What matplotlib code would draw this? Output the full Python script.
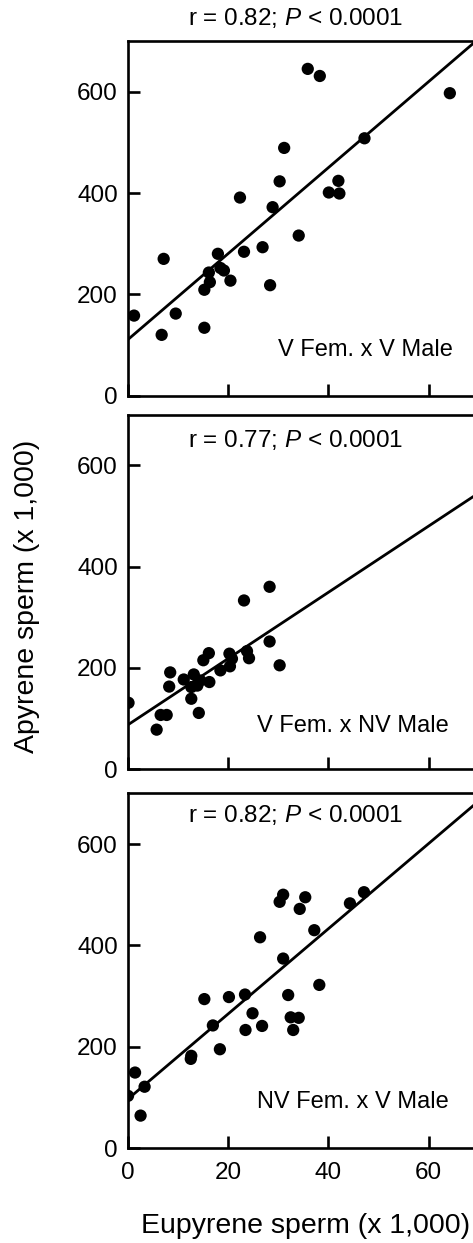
import matplotlib
matplotlib.use("Agg")
import matplotlib.pyplot as plt
import numpy as np

plt.rcParams["font.family"] = ["Liberation Sans", "DejaVu Sans"]
plt.rcParams["mathtext.fontset"] = "custom"
plt.rcParams["mathtext.rm"] = "Liberation Sans"
plt.rcParams["mathtext.it"] = "Liberation Sans:italic"

# panel 1: V Fem. x V Male
V_V_EUPYRENE = [1.3, 6.8, 7.2, 9.6, 15.3, 15.3, 16.4, 16.2, 18.5, 19.2, 18.0, 20.5, 23.2, 26.9,
                28.4, 22.4, 28.9, 30.3, 31.2, 34.1, 35.9, 38.3, 40.1, 42.2, 42.0, 47.2, 64.2]
V_V_APYRENE = [158, 120, 270, 162, 134, 209, 224, 243, 252, 247, 280, 227, 284, 293,
               218, 391, 372, 423, 489, 316, 645, 631, 401, 399, 424, 508, 597]
V_V_FIT = (8.5, 110)   # slope, intercept

# panel 2: V Fem. x NV Male
V_NV_EUPYRENE = [0.2, 5.8, 6.6, 7.8, 8.3, 8.5, 11.2, 12.7, 12.7, 13.2, 13.9, 14.2, 14.5, 15.1,
                 16.2, 16.3, 18.5, 20.3, 20.4, 20.8, 23.2, 23.8, 24.2, 28.3, 28.3, 30.3]
V_NV_APYRENE = [131, 78, 107, 107, 163, 191, 177, 139, 162, 187, 165, 111, 175, 215,
                229, 172, 195, 228, 203, 218, 333, 233, 219, 360, 252, 205]
V_NV_FIT = (6.55, 87)

# panel 3: NV Fem. x V Male
NV_V_EUPYRENE = [0.1, 2.6, 3.4, 1.5, 12.7, 12.6, 18.4, 17.0, 15.3, 20.2, 23.4, 23.5, 24.9, 26.8,
                 26.4, 31.0, 32.0, 32.5, 34.1, 33.0, 30.3, 31.0, 35.4, 34.3, 37.2, 38.2, 44.3, 47.1]
NV_V_APYRENE = [103, 64, 121, 149, 182, 176, 195, 242, 294, 298, 303, 233, 266, 241,
                416, 374, 302, 258, 257, 233, 486, 500, 495, 472, 430, 322, 483, 505]
NV_V_FIT = (8.42, 96)

PANEL_LABELS = ["V Fem. x V Male", "V Fem. x NV Male", "NV Fem. x V Male"]
R_VALUES = ["0.82", "0.77", "0.82"]
X_TICKS = [0, 20, 40, 60]
Y_TICKS = [0, 200, 400, 600]

panels = [
    (V_V_EUPYRENE, V_V_APYRENE, V_V_FIT),
    (V_NV_EUPYRENE, V_NV_APYRENE, V_NV_FIT),
    (NV_V_EUPYRENE, NV_V_APYRENE, NV_V_FIT),
]

fig = plt.figure(figsize=(4.73, 12.43), dpi=100)

bottoms = [0.6817, 0.3812, 0.0764]
title_y = [745, 650, 657]
label_pos = [(47.4, 90), (44.9, 86), (44.8, 90)]

for i, (xs, ys, fit) in enumerate(panels):
    ax = fig.add_axes([0.2696, bottoms[i], 0.743, 0.2853])
    ax.scatter(xs, ys, s=78, color="black", edgecolors="none", zorder=3)

    line_x = np.array([0, 70])
    ax.plot(line_x, fit[0] * line_x + fit[1], color="black", lw=2.0, zorder=2)

    ax.set_xlim(0, 70)
    ax.set_ylim(0, 700)
    ax.set_xticks(X_TICKS)
    ax.set_yticks(Y_TICKS)

    for side in ["left", "bottom", "top", "right"]:
        ax.spines[side].set_linewidth(1.9)

    ax.tick_params(direction="in", length=8.5, width=1.9, labelsize=17.5, pad=7)
    if i < 2:
        ax.tick_params(axis="x", labelbottom=False)
    else:
        ax.tick_params(axis="x", pad=10)

    ax.text(33.5, title_y[i], f"r = {R_VALUES[i]}; $\\it{{P}}$ < 0.0001",
            ha="center", va="center", fontsize=17.5, clip_on=False)
    ax.text(label_pos[i][0], label_pos[i][1], PANEL_LABELS[i],
            ha="center", va="center", fontsize=17)

fig.text(0.057, 0.52, "Apyrene sperm (x 1,000)", rotation=90,
         ha="center", va="center", fontsize=20.5)
fig.text(0.647, 0.014, "Eupyrene sperm (x 1,000)",
         ha="center", va="center", fontsize=20.5)

fig.savefig("out.png", dpi=100)
